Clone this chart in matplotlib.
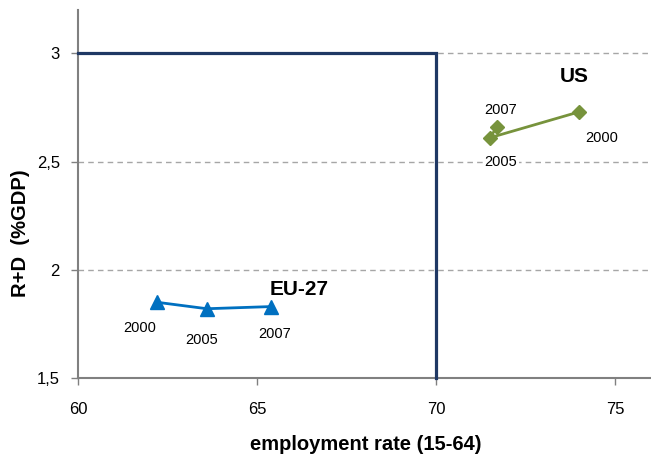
import matplotlib.pyplot as plt

plt.rcParams['font.family'] = ['Liberation Sans', 'DejaVu Sans']

# data
eu_years = ['2000', '2005', '2007']
eu_emp = [62.2, 63.6, 65.4]
eu_rd = [1.85, 1.82, 1.83]

us_years = ['2000', '2005', '2007']
us_emp = [74.0, 71.5, 71.7]
us_rd = [2.73, 2.61, 2.66]

# target box (employment 70 %, R+D 3 %)
target_emp = 70
target_rd = 3

xticks = [60, 65, 70, 75]
yticks = [1.5, 2, 2.5, 3]
ytick_labels = ['1,5', '2', '2,5', '3']

fig = plt.figure(figsize=(6.51, 4.58), dpi=100)
ax = fig.add_axes([0.1198, 0.1747, 0.8802, 0.8033])

for y in [2, 2.5, 3]:
    ax.axhline(y, color='#A6A6A6', lw=1, ls=(0, (4, 3)), zorder=1)

ax.plot([60, target_emp, target_emp], [target_rd, target_rd, 1.5],
        color='#1F3864', lw=2.3, zorder=3, solid_joinstyle='miter',
        clip_on=False)

ax.plot(eu_emp, eu_rd, color='#0070C0', lw=2, marker='^', ms=9.5, zorder=4)
ax.plot(us_emp, us_rd, color='#77933C', lw=2, marker='D', ms=7.5, zorder=4)

# year labels
eu_lab_pos = [(61.72, 1.731), (63.44, 1.676), (65.5, 1.703)]
us_lab_pos = [(74.63, 2.608), (71.81, 2.497), (71.79, 2.737)]
for yr, (x, y) in zip(eu_years, eu_lab_pos):
    ax.text(x, y, yr, fontsize=10.5, ha='center', va='center', zorder=5)
for yr, (x, y) in zip(us_years, us_lab_pos):
    ax.text(x, y, yr, fontsize=10.5, ha='center', va='center', zorder=5,
            bbox=dict(facecolor='white', edgecolor='none', pad=1))

ax.text(66.17, 1.911, 'EU-27', fontsize=15, fontweight='bold',
        ha='center', va='center')
ax.text(73.86, 2.894, 'US', fontsize=15, fontweight='bold',
        ha='center', va='center')

ax.set_xlim(60, 76)
ax.set_ylim(1.5, 3.2)
ax.set_xticks(xticks)
ax.set_yticks(yticks)
ax.set_yticklabels(ytick_labels)
ax.tick_params(axis='both', labelsize=12, colors='#808080', labelcolor='black',
               length=5, width=1, direction='out')
ax.tick_params(axis='x', pad=12)
ax.tick_params(axis='y', pad=8)

for side in ['top', 'right']:
    ax.spines[side].set_visible(False)
for side in ['left', 'bottom']:
    ax.spines[side].set_color('#808080')
    ax.spines[side].set_linewidth(1.5)

ax.set_xlabel('employment rate (15-64)', fontsize=14.5, fontweight='bold')
ax.set_ylabel('R+D  (%GDP)', fontsize=14.5, fontweight='bold')
ax.xaxis.set_label_coords(0.503, -0.155)
ax.yaxis.set_label_coords(-0.084, 0.394)

fig.savefig('out.png', dpi=100)
